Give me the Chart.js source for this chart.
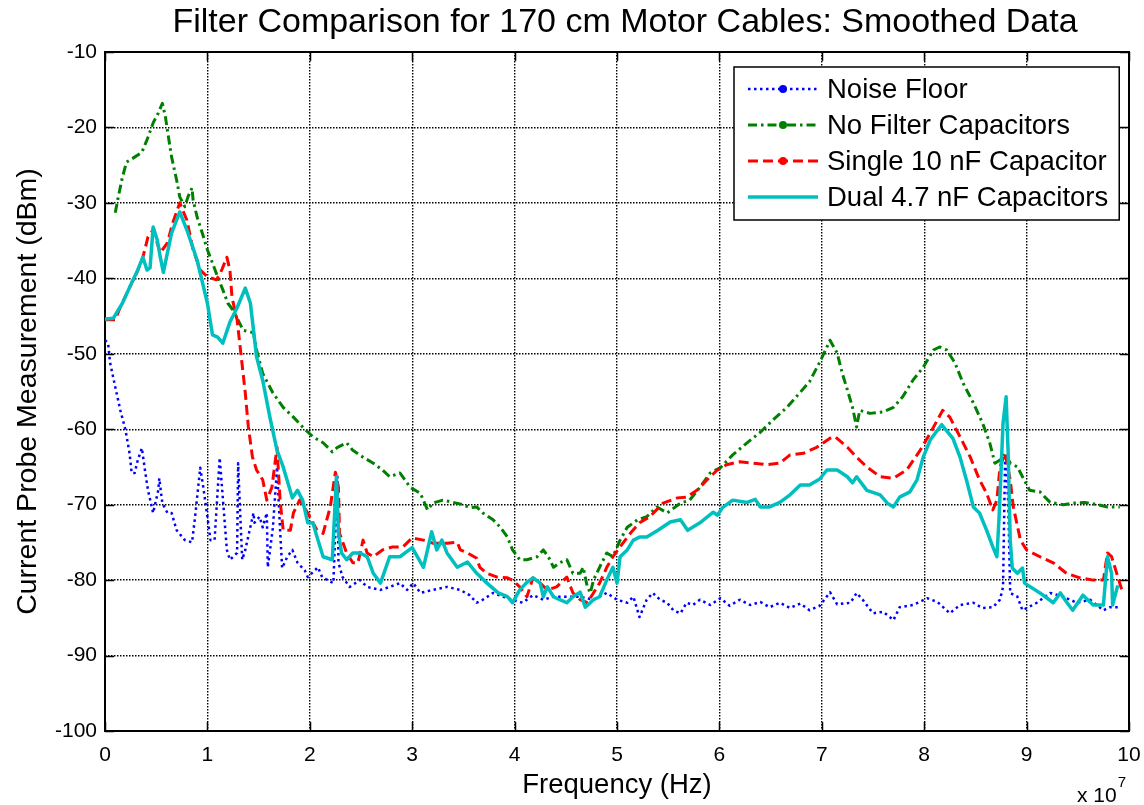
<!DOCTYPE html>
<html>
<head>
    <title>Filter Comparison for 170 cm Motor Cables</title>
    <script src="https://cdn.jsdelivr.net/npm/chart.js@4.4.1/dist/chart.umd.min.js"></script>
    <style>
        body {
            margin: 0;
            background-color: white;
        }
        #filterChart {
            display: block;
        }
    </style>
</head>
<body>
    <canvas id="filterChart" width="1144" height="805"></canvas>

    <script>
    // frequency in units of 1e7 Hz, levels in dBm
    const noiseFreq = [0, 0.03, 0.05, 0.10, 0.15, 0.20, 0.24, 0.26, 0.29, 0.32,
        0.36, 0.39, 0.42, 0.47, 0.52, 0.53, 0.56, 0.61, 0.65, 0.70,
        0.78, 0.85, 0.88, 0.93, 0.96, 1.00, 1.03, 1.07, 1.12, 1.15,
        1.19, 1.22, 1.29, 1.30, 1.32, 1.34, 1.37, 1.45, 1.46, 1.51,
        1.54, 1.58, 1.59, 1.64, 1.68, 1.71, 1.73, 1.78, 1.83, 1.88,
        1.95, 1.98, 2.08, 2.12, 2.23, 2.27, 2.28, 2.32, 2.39, 2.49,
        2.56, 2.69, 2.78, 2.88, 2.95, 3.01, 3.08, 3.20, 3.34, 3.47,
        3.56, 3.63, 3.69, 3.79, 3.89, 3.98, 4.08, 4.18, 4.28, 4.38,
        4.51, 4.64, 4.77, 4.90, 5.00, 5.10, 5.16, 5.22, 5.29, 5.35,
        5.42, 5.49, 5.55, 5.62, 5.68, 5.74, 5.81, 5.91, 6.01, 6.10,
        6.20, 6.30, 6.40, 6.49, 6.59, 6.69, 6.79, 6.88, 6.98, 7.08,
        7.15, 7.28, 7.34, 7.40, 7.50, 7.60, 7.70, 7.76, 7.89, 8.03,
        8.13, 8.25, 8.35, 8.48, 8.57, 8.67, 8.74, 8.77, 8.79, 8.82,
        8.84, 8.91, 8.96, 9.10, 9.23, 9.36, 9.49, 9.62, 9.75, 9.81,
        9.91];
    const noiseDbm = [-48.2, -48.6, -51.2, -54.4, -57.5, -60.1, -63.2, -65.8, -65.8, -64.1,
        -62.5, -65.4, -68.1, -71.1, -68.1, -66.5, -69.8, -71.1, -71.1, -73.4,
        -74.7, -75.0, -71.6, -65.1, -67.7, -71.6, -74.7, -74.7, -63.8, -69.0,
        -76.0, -77.3, -76.4, -64.5, -71.1, -77.3, -76.0, -71.1, -72.4, -71.6,
        -73.0, -71.1, -78.3, -73.0, -65.0, -73.4, -78.4, -76.9, -76.0, -77.7,
        -78.7, -79.6, -78.3, -79.6, -80.4, -66.3, -77.7, -79.6, -80.9, -80.0,
        -80.9, -81.3, -80.9, -80.4, -81.3, -80.4, -81.7, -81.3, -80.9, -81.3,
        -82.0, -83.0, -82.6, -81.7, -82.2, -82.6, -83.0, -82.0, -82.6, -82.2,
        -82.2, -82.2, -82.6, -81.7, -82.6, -83.0, -82.2, -84.9, -82.6, -81.7,
        -82.6, -83.0, -84.0, -84.4, -83.0, -83.3, -82.6, -83.3, -82.4, -83.4,
        -82.6, -83.3, -82.9, -83.6, -83.0, -83.7, -83.1, -84.0, -83.4, -81.6,
        -83.2, -83.0, -81.7, -82.6, -84.4, -84.2, -85.3, -83.6, -83.3, -82.4,
        -82.9, -84.4, -83.3, -83.0, -83.7, -83.6, -82.6, -80.9, -63.7, -69.4,
        -81.7, -82.2, -84.0, -83.0, -81.7, -82.2, -83.0, -82.6, -84.0, -83.6,
        -83.6];

    const noFilterFreq = [0.10, 0.13, 0.17, 0.21, 0.27, 0.36, 0.42, 0.47, 0.52, 0.56,
        0.59, 0.62, 0.65, 0.70, 0.73, 0.78, 0.81, 0.85, 0.86, 0.90,
        0.95, 1.00, 1.05, 1.10, 1.15, 1.20, 1.25, 1.35, 1.45, 1.48,
        1.54, 1.64, 1.74, 1.84, 1.93, 2.03, 2.13, 2.22, 2.27, 2.36,
        2.42, 2.52, 2.62, 2.71, 2.78, 2.88, 2.98, 3.08, 3.15, 3.20,
        3.30, 3.40, 3.50, 3.56, 3.63, 3.69, 3.79, 3.86, 3.93, 3.98,
        4.05, 4.12, 4.22, 4.28, 4.33, 4.38, 4.44, 4.51, 4.57, 4.64,
        4.67, 4.71, 4.74, 4.77, 4.83, 4.90, 4.96, 5.03, 5.10, 5.20,
        5.29, 5.39, 5.49, 5.62, 5.71, 5.81, 5.91, 6.01, 6.13, 6.27,
        6.40, 6.52, 6.66, 6.79, 6.88, 6.98, 7.05, 7.08, 7.15, 7.20,
        7.25, 7.30, 7.34, 7.37, 7.47, 7.60, 7.70, 7.79, 7.89, 7.99,
        8.09, 8.15, 8.22, 8.30, 8.38, 8.48, 8.57, 8.64, 8.69, 8.74,
        8.79, 8.84, 8.91, 8.96, 9.03, 9.13, 9.23, 9.36, 9.45, 9.57,
        9.69, 9.79, 9.91];
    const noFilterDbm = [-31.3, -29.2, -26.6, -24.6, -24.1, -23.3, -21.3, -19.4, -18.1, -16.8,
        -18.6, -21.3, -23.9, -27.0, -29.2, -30.5, -29.2, -28.0, -29.6, -31.9,
        -34.0, -36.2, -38.0, -39.8, -41.5, -43.3, -44.2, -46.9, -47.2, -49.5,
        -52.6, -55.2, -57.1, -58.4, -59.7, -61.0, -61.8, -63.0, -62.4, -61.8,
        -62.8, -63.7, -64.5, -65.4, -66.3, -65.8, -67.7, -68.5, -70.7, -69.8,
        -69.4, -69.7, -70.0, -70.4, -70.3, -71.1, -72.0, -73.0, -74.3, -76.0,
        -77.3, -77.3, -76.9, -76.0, -76.9, -78.3, -77.7, -77.3, -79.1, -79.1,
        -78.3, -80.9, -81.7, -80.0, -78.3, -76.4, -76.9, -74.7, -73.0, -72.0,
        -71.6, -70.3, -71.1, -69.8, -69.4, -67.7, -65.8, -65.1, -63.4, -61.8,
        -60.4, -58.8, -57.1, -55.1, -53.7, -51.1, -49.1, -48.2, -49.9, -52.6,
        -54.8, -57.1, -59.7, -57.5, -57.9, -57.7, -57.1, -55.7, -53.5, -51.8,
        -49.5, -49.1, -49.5, -51.2, -53.9, -56.5, -59.2, -61.8, -64.5, -64.1,
        -63.2, -64.5, -65.0, -66.3, -68.1, -68.3, -69.7, -70.0, -69.8, -69.7,
        -70.0, -70.3, -70.3];

    const singleFreq = [0, 0.10, 0.15, 0.24, 0.31, 0.37, 0.42, 0.47, 0.54, 0.61,
        0.66, 0.73, 0.80, 0.86, 0.93, 1.00, 1.09, 1.14, 1.19, 1.22,
        1.24, 1.29, 1.32, 1.37, 1.40, 1.44, 1.48, 1.54, 1.58, 1.63,
        1.68, 1.71, 1.74, 1.81, 1.84, 1.90, 1.98, 2.07, 2.13, 2.20,
        2.25, 2.28, 2.29, 2.36, 2.42, 2.47, 2.52, 2.56, 2.62, 2.71,
        2.81, 2.91, 3.00, 3.11, 3.20, 3.34, 3.44, 3.47, 3.54, 3.63,
        3.66, 3.73, 3.83, 3.93, 3.98, 4.05, 4.12, 4.18, 4.25, 4.32,
        4.41, 4.51, 4.57, 4.64, 4.71, 4.77, 4.83, 4.90, 4.96, 5.03,
        5.13, 5.22, 5.32, 5.45, 5.59, 5.68, 5.78, 5.88, 5.98, 6.07,
        6.20, 6.33, 6.46, 6.59, 6.69, 6.82, 6.95, 7.08, 7.13, 7.25,
        7.34, 7.44, 7.57, 7.70, 7.83, 7.96, 8.06, 8.18, 8.25, 8.35,
        8.45, 8.54, 8.61, 8.67, 8.71, 8.74, 8.79, 8.84, 8.87, 8.94,
        9.00, 9.13, 9.26, 9.39, 9.52, 9.65, 9.75, 9.79, 9.83, 9.88,
        9.93];
    const singleDbm = [-45.5, -45.5, -43.8, -41.2, -39.3, -37.2, -34.5, -33.6, -36.6, -35.3,
        -32.7, -30.0, -32.3, -36.2, -38.9, -39.8, -40.2, -38.9, -37.2, -38.9,
        -42.5, -45.5, -49.1, -55.2, -59.7, -63.7, -65.4, -66.7, -69.4, -67.7,
        -62.4, -69.4, -73.4, -73.4, -71.1, -69.4, -71.1, -73.4, -73.8, -70.3,
        -65.7, -67.7, -73.8, -76.4, -77.7, -77.7, -74.7, -76.4, -76.9, -76.0,
        -75.6, -75.6, -74.4, -74.7, -75.1, -75.1, -75.0, -76.0, -76.4, -77.1,
        -78.3, -79.1, -79.6, -79.7, -80.0, -80.9, -82.2, -79.7, -80.4, -81.3,
        -80.9, -79.6, -81.7, -82.6, -83.0, -81.7, -80.4, -78.3, -76.9, -75.6,
        -73.8, -72.4, -71.6, -69.8, -69.1, -69.0, -68.1, -66.7, -65.4, -64.7,
        -64.3, -64.5, -64.7, -64.5, -63.4, -63.2, -62.4, -61.2, -61.0, -62.4,
        -63.7, -65.0, -66.3, -66.5, -65.4, -62.8, -60.5, -57.5, -58.4, -61.0,
        -63.7, -66.7, -68.5, -70.7, -69.4, -65.0, -63.2, -66.7, -70.3, -74.7,
        -76.0, -76.9, -77.7, -79.1, -79.7, -80.0, -80.0, -76.4, -76.9, -79.1,
        -81.3];

    const dualFreq = [0, 0.08, 0.17, 0.26, 0.31, 0.37, 0.41, 0.44, 0.47, 0.51,
        0.54, 0.57, 0.61, 0.65, 0.73, 0.80, 0.90, 1.00, 1.05, 1.10,
        1.15, 1.22, 1.29, 1.37, 1.42, 1.48, 1.54, 1.61, 1.68, 1.74,
        1.83, 1.88, 1.93, 1.98, 2.03, 2.08, 2.13, 2.22, 2.26, 2.28,
        2.31, 2.36, 2.42, 2.49, 2.56, 2.62, 2.69, 2.78, 2.88, 3.00,
        3.11, 3.19, 3.24, 3.29, 3.34, 3.44, 3.54, 3.63, 3.73, 3.84,
        3.93, 3.98, 4.05, 4.12, 4.18, 4.25, 4.28, 4.32, 4.38, 4.44,
        4.51, 4.57, 4.64, 4.69, 4.77, 4.83, 4.90, 4.96, 5.00, 5.03,
        5.10, 5.16, 5.22, 5.29, 5.40, 5.52, 5.62, 5.69, 5.81, 5.94,
        5.98, 6.03, 6.13, 6.27, 6.35, 6.40, 6.49, 6.59, 6.69, 6.79,
        6.88, 6.98, 7.05, 7.15, 7.25, 7.30, 7.34, 7.44, 7.57, 7.64,
        7.70, 7.76, 7.86, 7.93, 7.99, 8.06, 8.17, 8.28, 8.35, 8.42,
        8.48, 8.54, 8.61, 8.67, 8.71, 8.73, 8.77, 8.80, 8.82, 8.84,
        8.86, 8.91, 8.96, 8.98, 9.13, 9.26, 9.33, 9.39, 9.45, 9.55,
        9.65, 9.75, 9.79, 9.83, 9.84, 9.89];
    const dualDbm = [-45.4, -45.3, -43.3, -40.6, -39.2, -37.2, -38.9, -38.6, -33.2, -34.9,
        -37.2, -39.2, -36.6, -34.0, -31.2, -33.6, -37.6, -43.3, -47.5, -47.8,
        -48.6, -45.8, -43.9, -41.3, -43.3, -50.4, -53.5, -58.4, -62.8, -65.0,
        -69.1, -68.1, -69.4, -72.4, -72.4, -74.7, -76.9, -77.3, -66.3, -73.8,
        -76.4, -77.3, -76.4, -76.4, -76.9, -79.1, -80.4, -76.9, -76.9, -75.7,
        -78.3, -73.6, -76.0, -74.7, -76.4, -78.3, -77.6, -79.1, -80.4, -81.7,
        -82.2, -83.0, -81.3, -80.3, -79.7, -80.4, -82.2, -80.9, -82.2, -82.6,
        -83.0, -82.2, -81.6, -83.6, -82.6, -82.2, -80.0, -78.3, -80.4, -76.9,
        -76.0, -74.7, -74.3, -74.3, -73.4, -72.3, -72.0, -73.4, -72.4, -71.0,
        -71.4, -70.4, -69.4, -69.7, -69.3, -70.3, -70.3, -69.7, -68.7, -67.4,
        -67.4, -66.6, -65.4, -65.4, -66.3, -67.1, -66.3, -68.1, -68.7, -69.8,
        -70.3, -69.0, -68.3, -66.7, -63.7, -61.4, -59.4, -61.2, -63.7, -67.1,
        -70.3, -71.1, -73.4, -75.6, -76.9, -72.0, -59.2, -55.7, -63.2, -74.7,
        -78.4, -79.1, -78.4, -80.4, -81.7, -83.0, -81.7, -82.9, -84.0, -82.0,
        -83.3, -83.3, -76.9, -79.1, -83.3, -80.7];

    const seriesLabels = ['Noise Floor', 'No Filter Capacitors', 'Single 10 nF Capacitor', 'Dual 4.7 nF Capacitors'];
    const xTicks = [0, 1, 2, 3, 4, 5, 6, 7, 8, 9, 10];
    const yTicks = [-100, -90, -80, -70, -60, -50, -40, -30, -20, -10];
    const chartTitle = 'Filter Comparison for 170 cm Motor Cables: Smoothed Data';

    const FONT = "'Liberation Sans', Arial, Helvetica, sans-serif";
    Chart.defaults.font.family = FONT;
    Chart.defaults.color = '#000';

    function toPoints(xs, ys) {
        return xs.map((x, i) => ({ x: x, y: ys[i] }));
    }

    // axes box with inward tick marks on all four sides
    const axesBox = {
        id: 'axesBox',
        beforeDatasetsDraw(chart) {
            const { ctx, chartArea: a, scales } = chart;
            const len = 9;
            ctx.save();
            ctx.strokeStyle = '#000';
            ctx.lineWidth = 1.5;
            ctx.beginPath();
            xTicks.forEach(v => {
                const px = Math.round(scales.x.getPixelForValue(v)) + 0.5;
                ctx.moveTo(px, a.bottom); ctx.lineTo(px, a.bottom - len);
                ctx.moveTo(px, a.top); ctx.lineTo(px, a.top + len);
            });
            yTicks.forEach(v => {
                const py = Math.round(scales.y.getPixelForValue(v)) + 0.5;
                ctx.moveTo(a.left, py); ctx.lineTo(a.left + len, py);
                ctx.moveTo(a.right, py); ctx.lineTo(a.right - len, py);
            });
            ctx.stroke();
            ctx.lineWidth = 2;
            ctx.strokeRect(a.left, a.top, a.right - a.left, a.bottom - a.top);
            ctx.restore();
        }
    };

    // boxed legend in the upper right corner of the plot
    const boxLegend = {
        id: 'boxLegend',
        afterDatasetsDraw(chart) {
            const { ctx, chartArea: a } = chart;
            const sets = chart.data.datasets;
            ctx.save();
            ctx.font = '27.5px ' + FONT;
            const textW = Math.max(...sets.map(d => ctx.measureText(d.label).width));
            const rowH = 36;
            const w = 93 + textW + 11;
            const h = rowH * sets.length + 9;
            const x0 = Math.round(a.right - 10 - w);
            const y0 = Math.round(a.top + 15);
            ctx.fillStyle = '#fff';
            ctx.fillRect(x0, y0, w, h);
            ctx.strokeStyle = '#000';
            ctx.lineWidth = 1.5;
            ctx.strokeRect(x0, y0, w, h);
            sets.forEach((d, i) => {
                const cy = y0 + 22 + i * rowH;
                ctx.strokeStyle = d.borderColor;
                ctx.lineWidth = d.borderWidth;
                ctx.setLineDash(d.borderDash || []);
                ctx.beginPath();
                ctx.moveTo(x0 + 14, cy);
                ctx.lineTo(x0 + 84, cy);
                ctx.stroke();
                ctx.setLineDash([]);
                if (d.legendDot) {
                    ctx.fillStyle = d.borderColor;
                    ctx.beginPath();
                    ctx.arc(x0 + 49, cy, 4, 0, Math.PI * 2);
                    ctx.fill();
                }
                ctx.fillStyle = '#000';
                ctx.textBaseline = 'middle';
                ctx.textAlign = 'left';
                ctx.fillText(d.label, x0 + 93, cy + 1);
            });
            ctx.restore();
        }
    };

    // title over the plot, and the "x 10^7" multiplier under the frequency axis
    const plotText = {
        id: 'plotText',
        afterDraw(chart) {
            const { ctx, chartArea: a } = chart;
            ctx.save();
            ctx.fillStyle = '#000';
            ctx.textAlign = 'center';
            ctx.textBaseline = 'middle';
            ctx.font = '34px ' + FONT;
            ctx.fillText(chartTitle, (a.left + a.right) / 2 + 8, 23);

            ctx.textAlign = 'left';
            ctx.textBaseline = 'alphabetic';
            ctx.font = '21px ' + FONT;
            const base = 'x 10';
            const bx = a.right - 52;
            const bw = ctx.measureText(base).width;
            ctx.fillText(base, bx, 802);
            ctx.font = '15px ' + FONT;
            ctx.fillText('7', bx + bw + 1, 787);
            ctx.restore();
        }
    };

    const datasets = [
        {
            label: seriesLabels[0],
            data: toPoints(noiseFreq, noiseDbm),
            borderColor: '#0000ff',
            borderWidth: 2.5,
            borderDash: [2.5, 3.5],
            legendDot: true,
            order: 3
        },
        {
            label: seriesLabels[1],
            data: toPoints(noFilterFreq, noFilterDbm),
            borderColor: '#008000',
            borderWidth: 3,
            borderDash: [9, 4, 2.5, 4],
            legendDot: true,
            order: 2
        },
        {
            label: seriesLabels[2],
            data: toPoints(singleFreq, singleDbm),
            borderColor: '#ff0000',
            borderWidth: 3,
            borderDash: [10, 5],
            legendDot: true,
            order: 1
        },
        {
            label: seriesLabels[3],
            data: toPoints(dualFreq, dualDbm),
            borderColor: '#00bfbf',
            borderWidth: 3.5,
            legendDot: false,
            order: 0
        }
    ];
    datasets.forEach(d => {
        d.pointRadius = 0;
        d.fill = false;
        d.tension = 0;
        d.borderJoinStyle = 'round';
    });

    const ctx = document.getElementById('filterChart').getContext('2d');
    new Chart(ctx, {
        type: 'line',
        data: { datasets: datasets },
        options: {
            responsive: false,
            animation: false,
            layout: { padding: { left: 0, right: 15, top: 52, bottom: 0 } },
            plugins: {
                legend: { display: false },
                tooltip: { enabled: false },
                title: { display: false }
            },
            scales: {
                x: {
                    type: 'linear',
                    min: 0,
                    max: 10,
                    afterBuildTicks: s => { s.ticks = xTicks.map(v => ({ value: v })); },
                    afterFit: s => {
                        s.height = 74;
                        s.paddingLeft = 0;
                        s.paddingRight = 0;
                    },
                    ticks: { font: { size: 21 }, padding: 12, maxRotation: 0, color: '#000' },
                    grid: { color: '#000', lineWidth: 1.4, drawTicks: false },
                    border: { display: false, dash: [1.5, 1.5] },
                    title: {
                        display: true,
                        text: 'Frequency (Hz)',
                        font: { size: 27.5 },
                        color: '#000',
                        padding: { top: 0, bottom: 3 }
                    }
                },
                y: {
                    type: 'linear',
                    min: -100,
                    max: -10,
                    afterBuildTicks: s => { s.ticks = yTicks.map(v => ({ value: v })); },
                    afterFit: s => {
                        s.width = 105;
                        s.paddingTop = 0;
                        s.paddingBottom = 0;
                    },
                    ticks: { font: { size: 21 }, padding: 8, color: '#000' },
                    grid: { color: '#000', lineWidth: 1.4, drawTicks: false },
                    border: { display: false, dash: [1.5, 1.5] },
                    title: {
                        display: true,
                        text: 'Current Probe Measurement (dBm)',
                        font: { size: 28.5 },
                        color: '#000',
                        padding: { top: 11, bottom: 0 }
                    }
                }
            }
        },
        plugins: [axesBox, boxLegend, plotText]
    });
    </script>
</body>
</html>
